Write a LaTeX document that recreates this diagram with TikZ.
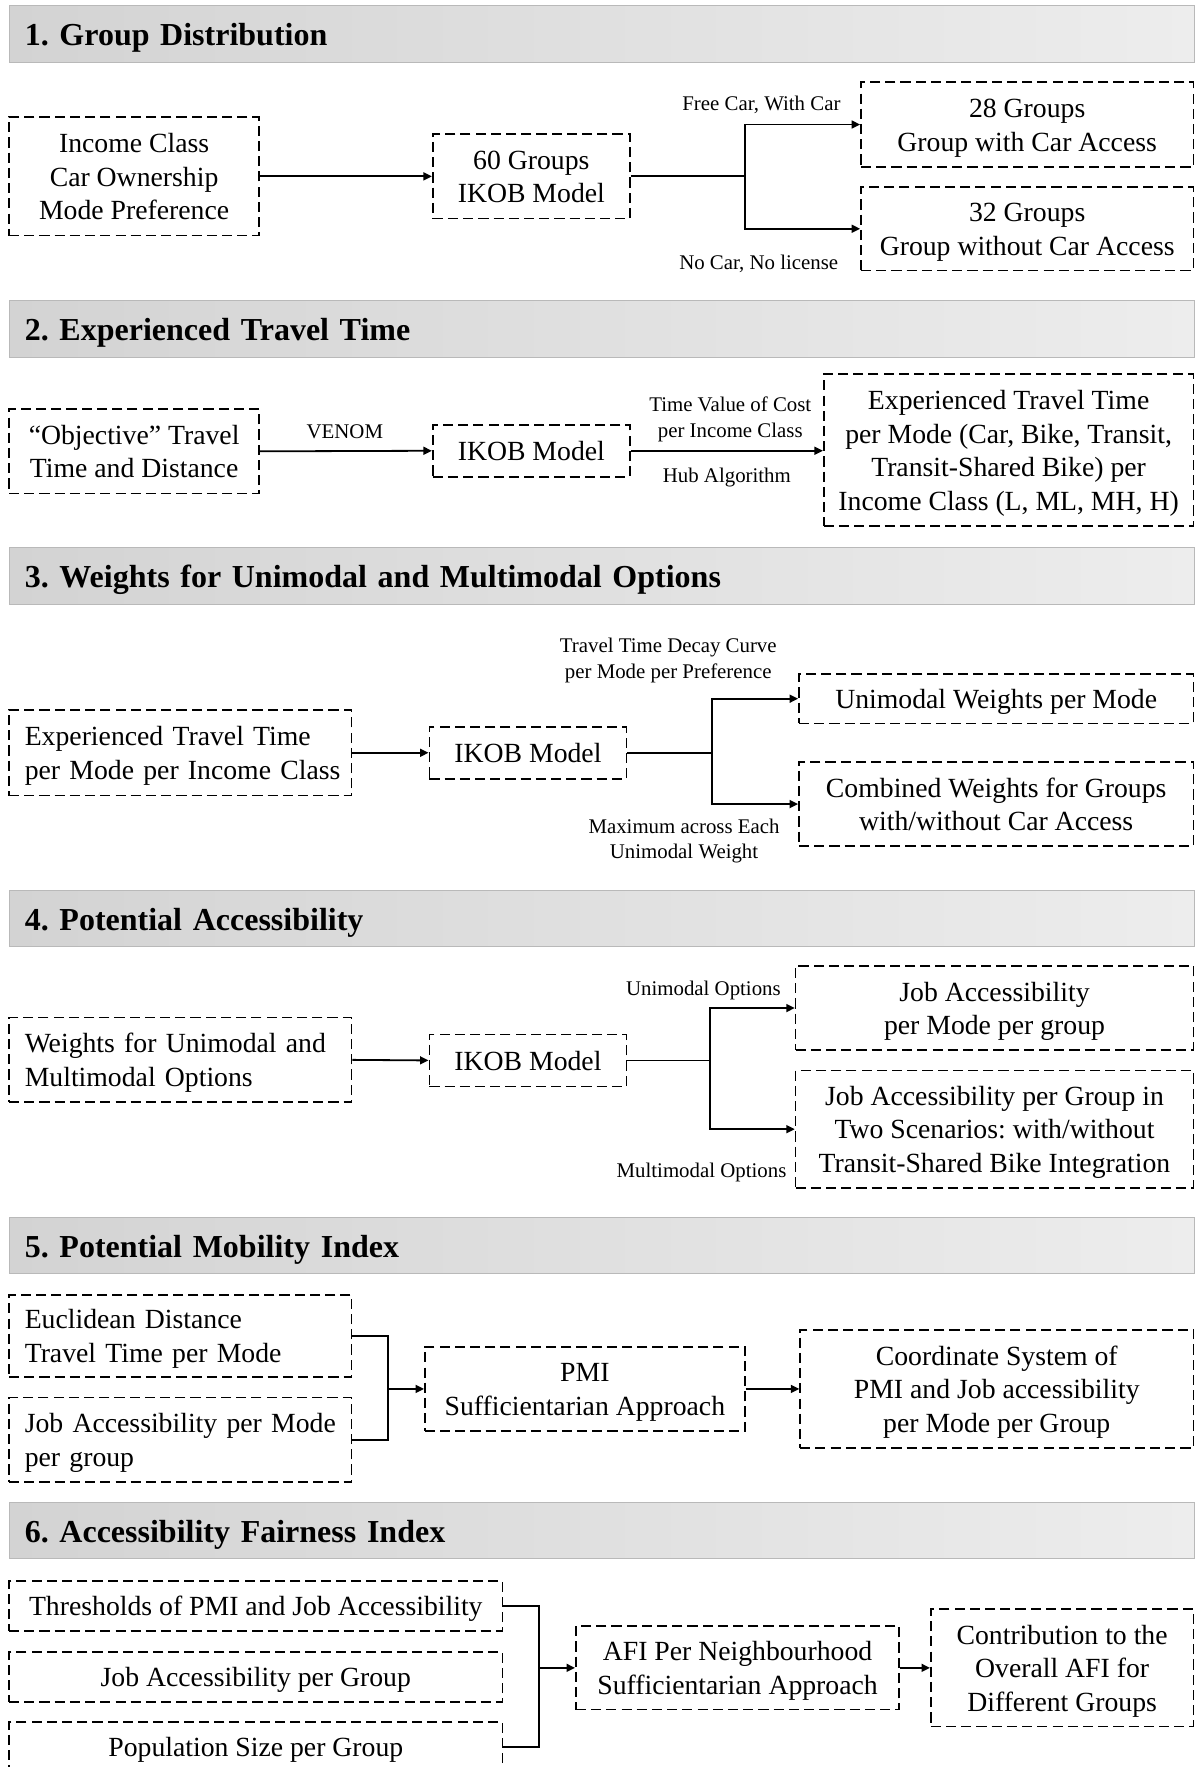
\documentclass[tikz,border=0pt]{standalone}
\usepackage{fontspec}
\setmainfont{Liberation Serif}
\usetikzlibrary{arrows.meta}
\frenchspacing

\newcommand{\bodyfont}{\fontsize{24.6pt}{29.7pt}\selectfont}
\newcommand{\lblfont}{\fontsize{18.5pt}{23pt}\selectfont}
\newcommand{\headfont}{\fontsize{28.4pt}{34pt}\selectfont\bfseries}
% line struts, so every line block sits evenly in its box
\newcommand{\bs}{\rule[-6.2pt]{0pt}{29.7pt}}
\newcommand{\ls}{\rule[-4.25pt]{0pt}{23pt}}

\definecolor{barleft}{RGB}{211,211,211}
\definecolor{barright}{RGB}{237,237,237}
\definecolor{barline}{RGB}{185,185,185}

\begin{document}
\begin{tikzpicture}[x=1pt,y=-1pt,
  box/.style={draw, line width=1.5pt, dash pattern=on 9pt off 4.5pt,
    inner sep=0pt, align=center, font=\bodyfont, execute at end node=\bs},
  lbox/.style={box, align=left, inner xsep=14pt, text width=276pt},
  head/.style={draw=barline, line width=0.8pt, left color=barleft, right color=barright,
    minimum width=1052pt, minimum height=50pt, inner xsep=14pt, inner ysep=0pt,
    text width=1024pt, text height=25pt, text depth=4pt, align=left, font=\headfont},
  lbl/.style={font=\lblfont, align=center, inner sep=0pt, execute at end node=\ls},
  link/.style={line width=1.6pt},
  arr/.style={link, -{Triangle[length=7.5pt,width=7pt]}}]

\clip (0,0) rectangle (1063,1568);

% ---------------- 1. Group Distribution ----------------
\node[head] (h1) at (534,30) {1. Group Distribution};
\node[box, minimum width=222pt, minimum height=105pt] (a1) at (119,156.5)
  {\bs Income Class\\Car Ownership\\Mode Preference};
\node[box, minimum width=175pt, minimum height=75pt] (b1) at (471.5,156.5)
  {\bs 60 Groups\\IKOB Model};
\node[box, minimum width=295pt, minimum height=75pt] (c1) at (911.5,110.5)
  {\bs 28 Groups\\Group with Car Access};
\node[box, minimum width=295pt, minimum height=74pt] (d1) at (911.5,203)
  {\bs 32 Groups\\Group without Car Access};
\coordinate (j1) at (661,156.5);
\draw[arr] (a1.east) -- (b1.west);
\draw[link] (b1.east) -- (j1);
\draw[arr] (j1) |- (c1.west);
\draw[arr] (j1) |- (d1.west);
\node[lbl, anchor=east] (l1a) at (746,91) {\ls Free Car, With Car};
\node[lbl, anchor=east] (l1b) at (744,232) {\ls No Car, No license};

% ---------------- 2. Experienced Travel Time ----------------
\node[head] (h2) at (534,292) {2. Experienced Travel Time};
\node[box, minimum width=222pt, minimum height=75pt] (a2) at (119,400.5)
  {\bs “Objective” Travel\\Time and Distance};
\node[box, minimum width=175pt, minimum height=46pt] (b2) at (471.5,400)
  {\bs IKOB Model};
\node[box, minimum width=328pt, minimum height=135pt] (c2) at (895,399.5)
  {\bs Experienced Travel Time\\per Mode (Car, Bike, Transit,\\Transit-Shared Bike) per\\Income Class (L, ML, MH, H)};
\draw[arr] (a2.east) -- (b2.west);
\draw[arr] (b2.east) -- (b2.east -| c2.west);
\node[lbl] (l2a) at (306,382) {\ls VENOM};
\node[lbl] (l2b) at (648,369.5) {\ls Time Value of Cost\\per Income Class};
\node[lbl] (l2c) at (645,421) {\ls Hub Algorithm};

% ---------------- 3. Weights ----------------
\node[head] (h3) at (534,511) {3. Weights for Unimodal and Multimodal Options};
\node[lbox, minimum width=304pt, minimum height=76pt] (a3) at (160,668)
  {\bs\mbox{Experienced Travel Time}\\\mbox{per Mode per Income Class}};
\node[box, minimum width=175pt, minimum height=46pt] (b3) at (468.5,668)
  {\bs IKOB Model};
\node[box, minimum width=350pt, minimum height=44pt] (c3) at (884,620)
  {\bs Unimodal Weights per Mode};
\node[box, minimum width=350pt, minimum height=75pt] (d3) at (884,713.5)
  {\bs Combined Weights for Groups\\with/without Car Access};
\coordinate (j3) at (632,668);
\draw[arr] (a3.east) -- (b3.west);
\draw[link] (b3.east) -- (j3);
\draw[arr] (j3) |- (c3.west);
\draw[arr] (j3) |- (d3.west);
\node[lbl] (l3a) at (593,583.5) {\ls Travel Time Decay Curve\\per Mode per Preference};
\node[lbl] (l3b) at (607,743.5) {\ls Maximum across Each\\Unimodal Weight};

% ---------------- 4. Potential Accessibility ----------------
\node[head] (h4) at (534,815) {4. Potential Accessibility};
\node[lbox, minimum width=304pt, minimum height=75pt] (a4) at (160,940.5)
  {\bs\mbox{Weights for Unimodal and}\\\mbox{Multimodal Options}};
\node[box, minimum width=175pt, minimum height=46pt] (b4) at (468.5,941)
  {\bs IKOB Model};
\node[box, minimum width=353pt, minimum height=75pt] (c4) at (882.5,894.5)
  {\bs Job Accessibility\\per Mode per group};
\node[box, minimum width=353pt, minimum height=104pt] (d4) at (882.5,1002)
  {\bs Job Accessibility per Group in\\Two Scenarios: with/without\\Transit-Shared Bike Integration};
\coordinate (j4) at (630,941);
\draw[arr] (a4.east) -- (b4.west);
\draw[link] (b4.east) -- (j4);
\draw[arr] (j4) |- (c4.west);
\draw[arr] (j4) |- (d4.west);
\node[lbl, anchor=east] (l4a) at (693,876) {\ls Unimodal Options};
\node[lbl, anchor=east] (l4b) at (698,1038) {\ls Multimodal Options};

% ---------------- 5. Potential Mobility Index ----------------
\node[head] (h5) at (534,1105) {5. Potential Mobility Index};
\node[lbox, minimum width=304pt, minimum height=73pt] (a5) at (160,1185.5)
  {\bs\mbox{Euclidean Distance}\\\mbox{Travel Time per Mode}};
\node[lbox, minimum width=304pt, minimum height=75pt] (a5b) at (160,1277.5)
  {\bs\mbox{Job Accessibility per Mode}\\\mbox{per group}};
\node[box, minimum width=284pt, minimum height=75pt] (b5) at (519,1232.5)
  {\bs PMI\\Sufficientarian Approach};
\node[box, minimum width=349pt, minimum height=105pt] (c5) at (884.5,1232.5)
  {\bs Coordinate System of\\PMI and Job accessibility\\per Mode per Group};
\coordinate (j5) at (344,1232.5);
\draw[link] (a5.east) -| (j5);
\draw[link] (a5b.east) -| (j5);
\draw[arr] (j5) -- (b5.west);
\draw[arr] (b5.east) -- (c5.west);

% ---------------- 6. Accessibility Fairness Index ----------------
\node[head] (h6) at (534,1358) {6. Accessibility Fairness Index};
\node[box, minimum width=438pt, minimum height=44pt] (a6) at (227,1425)
  {\bs Thresholds of PMI and Job Accessibility};
\node[box, minimum width=438pt, minimum height=44pt] (a6b) at (227,1488)
  {\bs Job Accessibility per Group};
\node[box, minimum width=438pt, minimum height=44pt] (a6c) at (227,1550)
  {\bs Population Size per Group};
\node[box, minimum width=287pt, minimum height=74pt] (b6) at (654.5,1480)
  {\bs AFI Per Neighbourhood\\Sufficientarian Approach};
\node[box, minimum width=233pt, minimum height=104pt] (c6) at (942.5,1480)
  {\bs Contribution to the\\Overall AFI for\\Different Groups};
\coordinate (j6) at (478,1480);
\draw[link] (a6.east) -| (j6);
\draw[link] (a6c.east) -| (j6);
\draw[arr] (j6) -- (b6.west);
\draw[arr] (b6.east) -- (c6.west);

\end{tikzpicture}
\end{document}
